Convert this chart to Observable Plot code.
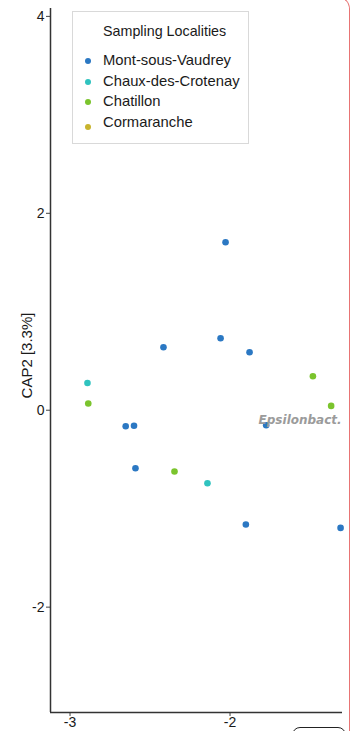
<!DOCTYPE html>
<html>
<head>
<meta charset="utf-8">
<script src="https://cdn.jsdelivr.net/npm/d3@7"></script>
<script src="https://cdn.jsdelivr.net/npm/@observablehq/plot@0.6"></script>
<style>
  html, body { margin: 0; padding: 0; background: #fff; overflow: hidden; }
  #wrap { position: relative; width: 352px; height: 731px; font-family: "Liberation Sans", Arial, sans-serif; }
  #legend {
    position: absolute; left: 72px; top: 11px; width: 177px; height: 133px;
    border: 1px solid #d9d9d9; background: #fff; box-sizing: border-box;
  }
  #legend .title { position: absolute; left: 30px; top: 11px; font-size: 14.3px; color: #1a1a1a; }
  #legend .item { position: absolute; left: 30px; font-size: 14.8px; color: #1a1a1a; white-space: nowrap; }
  #legend .key { position: absolute; width: 6px; height: 6px; border-radius: 50%; }
  #edge {
    position: absolute; left: -20px; top: -4px; width: 369px; height: 800px;
    border-top: 1.5px solid #e87474; border-right: 1.5px solid #e87474;
    border-top-right-radius: 13px; pointer-events: none;
  }
  #tab {
    position: absolute; left: 292px; top: 727px; width: 52px; height: 20px;
    border: 1px solid #222; border-radius: 8px; pointer-events: none;
  }
</style>
</head>
<body>
<div id="wrap"></div>
<script>
// Sampling localities and their colours
const localities = ["Mont-sous-Vaudrey", "Chaux-des-Crotenay", "Chatillon", "Cormaranche"];
const localityColors = ["#2b78c3", "#2fc3bf", "#7bc42d", "#c8b42e"];

// CAP ordination scores per sample
const sampleLocality = [
  "Mont-sous-Vaudrey", "Mont-sous-Vaudrey", "Mont-sous-Vaudrey", "Mont-sous-Vaudrey",
  "Mont-sous-Vaudrey", "Mont-sous-Vaudrey", "Mont-sous-Vaudrey", "Mont-sous-Vaudrey",
  "Mont-sous-Vaudrey", "Mont-sous-Vaudrey",
  "Chaux-des-Crotenay", "Chaux-des-Crotenay",
  "Chatillon", "Chatillon", "Chatillon", "Chatillon"
];
const cap1 = [
  -2.028, -2.416, -2.059, -1.878, -2.652, -2.600, -2.591, -1.774, -1.901, -1.309,
  -2.891, -2.141,
  -2.886, -2.347, -1.482, -1.368
];
const cap2 = [
  1.706, 0.640, 0.731, 0.589, -0.163, -0.157, -0.589, -0.152, -1.160, -1.195,
  0.277, -0.741,
  0.068, -0.622, 0.345, 0.044
];

// Taxon label placed in ordination space
const taxonNames = ["Epsilonbact."];
const taxonCap1 = [-1.562];
const taxonCap2 = [-0.105];

// Axes
const xDomain = [-3.122, -1.297];
const yDomain = [-3.07, 4.08];
const xTicks = [-3, -2];
const yTicks = [4, 2, 0, -2];
const yLabel = "CAP2 [3.3%]";

const samples = cap1.map((x, i) => ({ x, y: cap2[i], locality: sampleLocality[i] }));
const taxa = taxonNames.map((name, i) => ({ name, x: taxonCap1[i], y: taxonCap2[i] }));
const fmt = d => String(d);

const chart = Plot.plot({
  width: 352,
  height: 731,
  marginLeft: 50,
  marginRight: 10,
  marginTop: 8,
  marginBottom: 19,
  style: { fontFamily: "'Liberation Sans', Arial, sans-serif", fontSize: "14px", color: "#1a1a1a", background: "transparent" },
  x: { domain: xDomain },
  y: { domain: yDomain },
  color: { domain: localities, range: localityColors },
  marks: [
    Plot.axisY(yTicks, {
      tickSize: 4, tickPadding: 2, stroke: "#444", fill: "#1a1a1a", fontSize: 14,
      tickFormat: fmt, label: null
    }),
    Plot.axisX(xTicks, {
      tickSize: 4, tickPadding: 1, stroke: "#444", fill: "#1a1a1a", fontSize: 14,
      tickFormat: fmt, label: null
    }),
    Plot.text([yLabel], {
      frameAnchor: "left", rotate: -90, dx: -23, dy: -5,
      textAnchor: "middle", lineAnchor: "middle",
      fontSize: 15, fill: "#1a1a1a"
    }),
    Plot.ruleX([xDomain[0]], { stroke: "#333", strokeWidth: 1.5 }),
    Plot.ruleY([yDomain[0]], { stroke: "#333", strokeWidth: 1.5 }),
    Plot.dot(samples, { x: "x", y: "y", fill: "locality", r: 3.3 }),
    Plot.text(taxa, {
      x: "x", y: "y", text: "name", fill: "#9b9b9b",
      fontFamily: "'DejaVu Sans', sans-serif", fontWeight: "bold", fontStyle: "italic", fontSize: 12
    })
  ]
});

const wrap = document.getElementById("wrap");
chart.style.position = "absolute";
chart.style.left = "0";
chart.style.top = "0";
wrap.appendChild(chart);

// Legend box for sampling localities
const legend = document.createElement("div");
legend.id = "legend";
const title = document.createElement("div");
title.className = "title";
title.textContent = "Sampling Localities";
legend.appendChild(title);
localities.forEach((name, i) => {
  const key = document.createElement("div");
  key.className = "key";
  key.style.left = "12px";
  key.style.top = (46 + i * 20.7 + (i === 3 ? 4 : 0)) + "px";
  key.style.background = localityColors[i];
  legend.appendChild(key);
  const item = document.createElement("div");
  item.className = "item";
  item.style.top = (40 + i * 20.7) + "px";
  item.textContent = name;
  legend.appendChild(item);
});
wrap.appendChild(legend);

const edge = document.createElement("div");
edge.id = "edge";
wrap.appendChild(edge);
const tab = document.createElement("div");
tab.id = "tab";
wrap.appendChild(tab);
</script>
</body>
</html>
